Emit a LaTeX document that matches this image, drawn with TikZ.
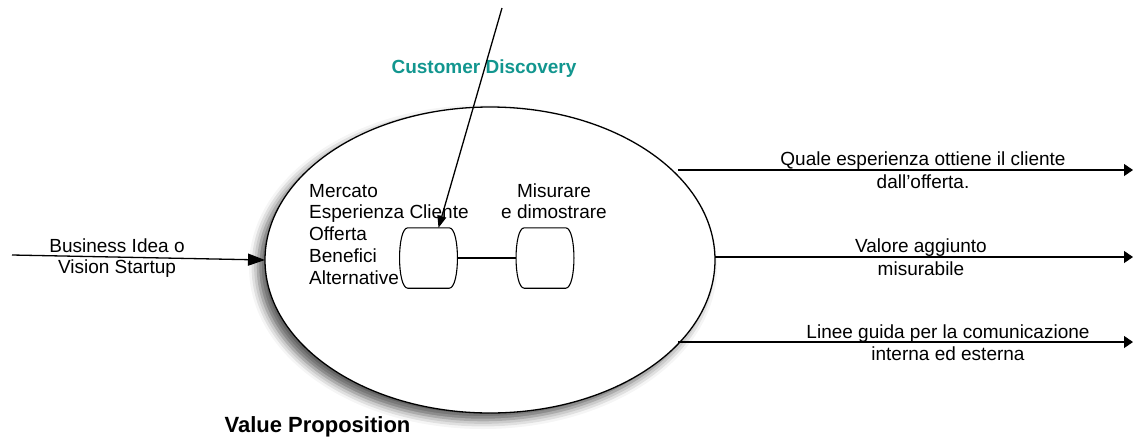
\documentclass[tikz,border=0pt]{standalone}
\usepackage{fontspec}
\setmainfont{Liberation Sans}
\usetikzlibrary{shapes.geometric,arrows.meta,calc,shadows.blur}
\definecolor{discoveryteal}{RGB}{18,150,143}

% barrel-shaped step: flat top and bottom, bulging sides
\newcommand\drawbarrel[1]{%
  \draw[thinline] ($(#1.north east)+(-8,0)$)
    .. controls ($(#1.north east)+(3,0)$) and ($(#1.south east)+(3,0)$) .. ($(#1.south east)+(-8,0)$)
    -- ($(#1.south west)+(8,0)$)
    .. controls ($(#1.south west)+(-3,0)$) and ($(#1.north west)+(-3,0)$) .. ($(#1.north west)+(8,0)$)
    -- cycle;}

\begin{document}
\begin{tikzpicture}[x=1pt,y=-1pt,
  font=\fontsize{19}{22}\selectfont,
  thinline/.style={line width=1.1pt},
  flow/.style={line width=1.3pt,-{Triangle[length=17pt,width=12pt]}},
  outflow/.style={line width=1.3pt,-{Triangle[length=9pt,width=12pt]}},
  pointer/.style={line width=1.3pt,-{Triangle[length=12pt,width=9pt]}},
  label/.style={inner sep=0pt,anchor=base,align=center},
  barrelbox/.style={minimum width=57pt,minimum height=60pt,inner sep=0pt}]
\useasboundingbox (0,0) rectangle (1133,440);

% value proposition ellipse with soft shadow
\node[ellipse,draw,line width=1.3pt,fill=white,minimum width=450pt,minimum height=306pt,
      inner sep=0pt,outer sep=0pt,
      blur shadow={shadow xshift=-7pt,shadow yshift=-7pt,shadow blur radius=9pt,shadow opacity=65}]
  (vp) at (490,260) {};

% inner steps
\node[barrelbox] (b1) at (428.5,258) {};
\node[barrelbox] (b2) at (545,258) {};
\drawbarrel{b1}
\drawbarrel{b2}
\draw[thinline] (b1.east) -- (b2.west);

% multi-line labels are placed by the baseline of their last line
\node[inner sep=0pt,anchor=base west,align=left,font=\fontsize{19}{21.75}\selectfont] (topics) at (309,284)
  {Mercato\\Esperienza Cliente\\Offerta\\Benefici\\Alternative};
\node[label,font=\fontsize{19}{21}\selectfont] (measure) at (554,218) {Misurare\\e dimostrare};

% customer discovery input from above
\node[label,font=\bfseries\fontsize{19}{22}\selectfont,text=discoveryteal] (cd) at (484,73) {Customer Discovery};
\coordinate (cdtop) at (502,8);
\draw[pointer] (cdtop) -- ([xshift=10pt]b1.north);

% input arrow
\coordinate (bizstart) at (12,255);
\draw[flow] (bizstart) -- (vp.west);
\node[label,font=\fontsize{19}{21}\selectfont] (biz) at (117,273) {Business Idea o\\Vision Startup};

% output arrows
\coordinate (out1) at (1133,170);
\coordinate (out2) at (1133,257);
\coordinate (out3) at (1133,342);
\draw[outflow] (vp.26.3 |- out1) ++(5,0) -- (out1);
\draw[outflow] (vp.east |- out2) -- (out2);
\draw[outflow] (vp.-23.3 |- out3) ++(-3,0) -- (out3);

\node[label,font=\fontsize{19}{23}\selectfont] (o1) at (923,188) {Quale esperienza ottiene il cliente\\dall'offerta.};
\node[label,font=\fontsize{19}{23}\selectfont] (o2) at (921,275) {Valore aggiunto\\misurabile};
\node[label,font=\fontsize{19}{22}\selectfont] (o3) at (948,360) {Linee guida per la comunicazione\\interna ed esterna};

\node[label,font=\bfseries\fontsize{22}{26}\selectfont] (vptitle) at (317.5,432) {Value Proposition};
\end{tikzpicture}
\end{document}
